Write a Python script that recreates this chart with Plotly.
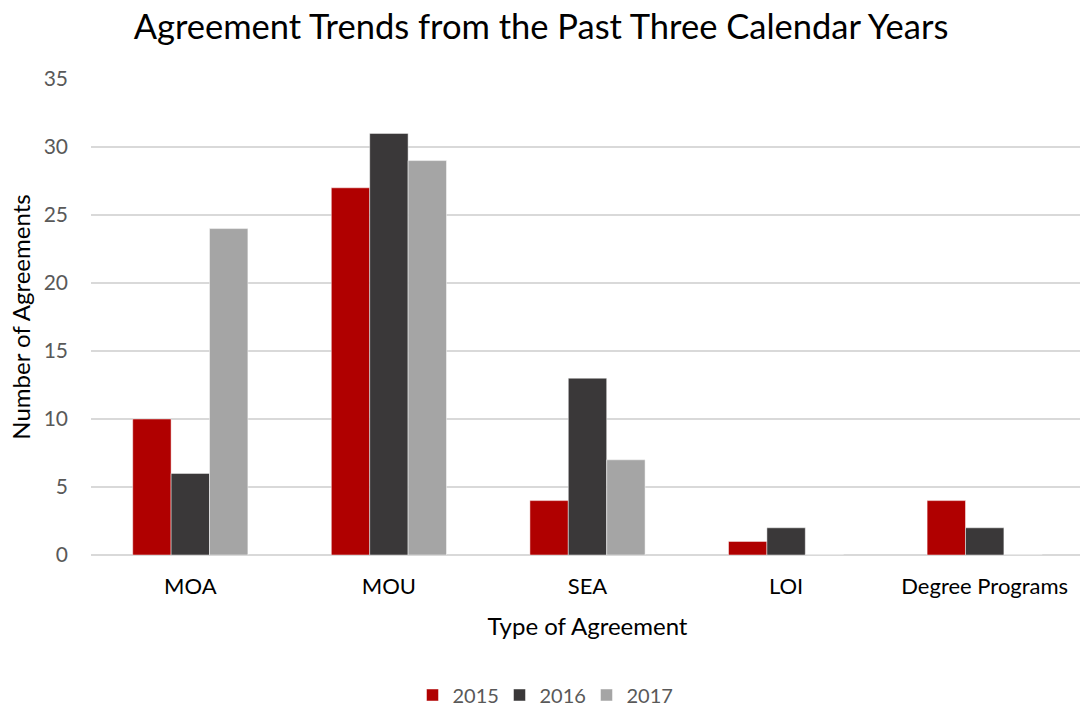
import plotly.graph_objects as go

categories = ["MOA", "MOU", "SEA", "LOI", "Degree Programs"]
years = ["2015", "2016", "2017"]
values_2015 = [10, 27, 4, 1, 4]
values_2016 = [6, 31, 13, 2, 2]
values_2017 = [24, 29, 7, 0, 0]
colors = ["#B00000", "#3A3839", "#A5A5A5"]
y_ticks = [0, 5, 10, 15, 20, 25, 30, 35]

FONT = "Lato"
W = 1084

fig = go.Figure()
for name, vals, col in zip(years, [values_2015, values_2016, values_2017], colors):
    fig.add_trace(go.Bar(
        x=categories, y=vals, name=name,
        marker=dict(color=col, line=dict(color="rgba(255,255,255,0.6)", width=0.8)),
    ))

fig.update_layout(
    width=W, height=706,
    paper_bgcolor="white", plot_bgcolor="white",
    barmode="group", bargap=0.42, bargroupgap=0,
    margin=dict(l=91, r=0, t=79, b=151, autoexpand=False),
    font=dict(family=FONT, color="#595959"),
    title=dict(text="Agreement Trends from the Past Three Calendar Years",
               x=541 / W, xref="container", xanchor="center", y=0.962, yanchor="middle",
               font=dict(family=FONT, size=34.5, color="#000000")),
    xaxis=dict(
        title=dict(text="Type of Agreement", font=dict(family=FONT, size=24, color="#000000"), standoff=20),
        tickfont=dict(family=FONT, size=22, color="#000000"),
        showline=False, showgrid=False, ticks="", ticklabelstandoff=16,
    ),
    yaxis=dict(
        title=dict(text="Number of Agreements", font=dict(family=FONT, size=24, color="#000000"), standoff=6),
        range=[0, 35], tickvals=y_ticks,
        tickfont=dict(family=FONT, size=21, color="#595959"),
        showgrid=True, gridcolor="#D9D9D9", gridwidth=1.5,
        zeroline=True, zerolinecolor="#D9D9D9", zerolinewidth=1.5,
        ticks="", ticklabelstandoff=22,
    ),
    legend=dict(orientation="h", x=543 / W, xref="container", xanchor="center",
                y=0.0156, yref="container", yanchor="middle",
                font=dict(family=FONT, size=20, color="#595959"),
                itemwidth=30, entrywidth=42, traceorder="normal"),
)

fig.write_html("out.html", config={"displayModeBar": False},
               post_script="document.body.style.margin='0';document.body.style.overflow='hidden';")
